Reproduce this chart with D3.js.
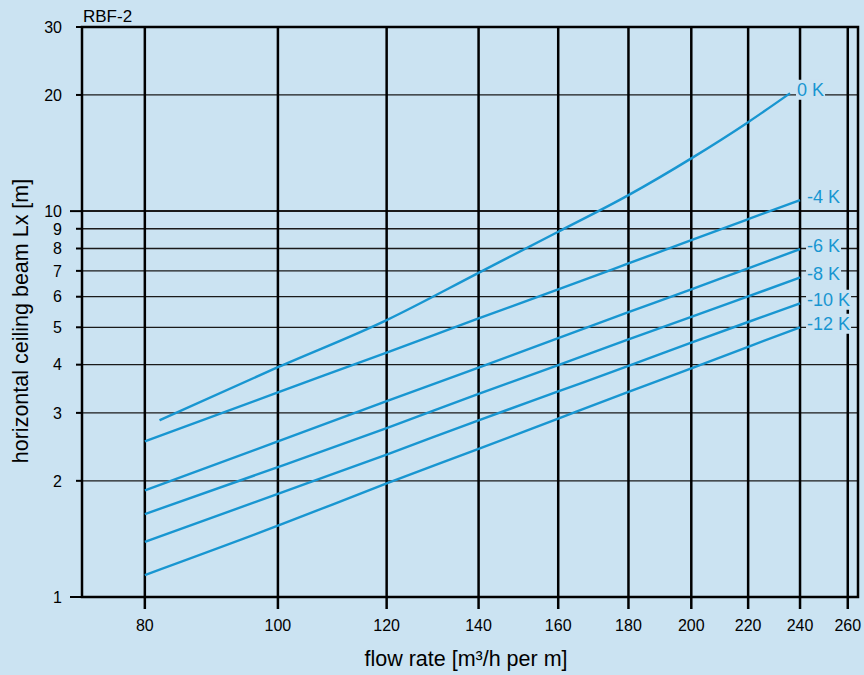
<!DOCTYPE html>
<head>
  <meta charset="utf-8">
  <script src="https://cdn.jsdelivr.net/npm/d3@7"></script>
  <style>
    body {
      margin: 0;
      background-color: #cbe3f2;
      font-family: Arial, "Liberation Sans", sans-serif;
    }
  </style>
</head>
<body>
  <div id="chart"></div>
  <script>
    // chart values
    var flow = [80, 100, 120, 140, 160, 180, 200, 220, 240];
    var flow_0K = [82, 100, 120, 140, 160, 180, 200, 220, 236];
    var lx_0K = [2.87, 3.94, 5.22, 6.92, 8.84, 11.0, 13.7, 17.0, 20.2];
    var lx_m4K = [2.53, 3.39, 4.30, 5.27, 6.27, 7.32, 8.41, 9.53, 10.68];
    var lx_m6K = [1.89, 2.53, 3.22, 3.93, 4.69, 5.47, 6.27, 7.11, 7.97];
    var lx_m8K = [1.64, 2.17, 2.74, 3.36, 3.99, 4.65, 5.32, 6.01, 6.73];
    var lx_m10K = [1.39, 1.85, 2.34, 2.87, 3.41, 3.97, 4.56, 5.16, 5.77];
    var lx_m12K = [1.14, 1.53, 1.97, 2.42, 2.90, 3.40, 3.91, 4.45, 5.00];
    var curve_labels = ['0 K', '-4 K', '-6 K', '-8 K', '-10 K', '-12 K'];
    var x_ticks = [80, 100, 120, 140, 160, 180, 200, 220, 240, 260];
    var y_ticks = [1, 2, 3, 4, 5, 6, 7, 8, 9, 10, 20, 30];
    var y_grid = [2, 3, 4, 5, 6, 7, 8, 9, 10, 20];

    var width = 864, height = 675;
    var line_color = '#1896d1';
    var bg_color = '#cbe3f2';

    var svg = d3.select('#chart').append('svg')
      .attr('width', width)
      .attr('height', height);

    var x = d3.scaleLog().domain([72, 264.5]).range([82, 858]);
    var y = d3.scaleLog().domain([1, 30]).range([597, 27]);

    var series = [
      { label: curve_labels[0], xs: flow_0K, ys: lx_0K },
      { label: curve_labels[1], xs: flow, ys: lx_m4K },
      { label: curve_labels[2], xs: flow, ys: lx_m6K },
      { label: curve_labels[3], xs: flow, ys: lx_m8K },
      { label: curve_labels[4], xs: flow, ys: lx_m10K },
      { label: curve_labels[5], xs: flow, ys: lx_m12K }
    ];

    // horizontal grid
    svg.append('g').selectAll('line')
      .data(y_grid).enter().append('line')
      .attr('x1', x.range()[0]).attr('x2', x.range()[1])
      .attr('y1', d => y(d)).attr('y2', d => y(d))
      .attr('stroke', '#1a1a1a')
      .attr('stroke-width', d => d == 10 ? 2 : 1.3);

    // vertical grid + x ticks
    svg.append('g').selectAll('line')
      .data(x_ticks).enter().append('line')
      .attr('x1', d => x(d)).attr('x2', d => x(d))
      .attr('y1', y.range()[1]).attr('y2', y.range()[0] + 12)
      .attr('stroke', '#000')
      .attr('stroke-width', 2.5);

    // frame
    svg.append('rect')
      .attr('x', x.range()[0]).attr('y', y.range()[1])
      .attr('width', x.range()[1] - x.range()[0])
      .attr('height', y.range()[0] - y.range()[1])
      .attr('fill', 'none')
      .attr('stroke', '#000')
      .attr('stroke-width', 2.5);

    // y ticks
    svg.append('g').selectAll('line')
      .data(y_ticks).enter().append('line')
      .attr('x1', d => (d == 1 || d == 10) ? x.range()[0] - 12 : x.range()[0] - 6)
      .attr('x2', x.range()[0])
      .attr('y1', d => y(d)).attr('y2', d => y(d))
      .attr('stroke', '#000')
      .attr('stroke-width', 2);

    svg.append('g').selectAll('text')
      .data(y_ticks).enter().append('text')
      .attr('x', 62)
      .attr('y', d => y(d))
      .attr('dy', '0.36em')
      .attr('text-anchor', 'end')
      .attr('font-size', '16px')
      .attr('fill', '#000')
      .text(d => d);

    svg.append('g').selectAll('text')
      .data(x_ticks).enter().append('text')
      .attr('x', d => x(d))
      .attr('y', 631)
      .attr('text-anchor', 'middle')
      .attr('font-size', '16px')
      .attr('fill', '#000')
      .text(d => d);

    // titles
    svg.append('text')
      .attr('x', 83).attr('y', 22)
      .attr('font-size', '17px')
      .text('RBF-2');

    svg.append('text')
      .attr('x', 466).attr('y', 666)
      .attr('text-anchor', 'middle')
      .attr('font-size', '21.5px')
      .text('flow rate [m³/h per m]');

    svg.append('text')
      .attr('transform', 'translate(28,321) rotate(-90)')
      .attr('text-anchor', 'middle')
      .attr('font-size', '21.5px')
      .text('horizontal ceiling beam Lx [m]');

    // curves
    var line = d3.line()
      .x(d => x(d[0]))
      .y(d => y(d[1]))
      .curve(d3.curveMonotoneX);

    svg.append('g').selectAll('path')
      .data(series).enter().append('path')
      .attr('d', s => line(s.xs.map((v, i) => [v, s.ys[i]])))
      .attr('fill', 'none')
      .attr('stroke', line_color)
      .attr('stroke-width', 2.4);

    // curve labels, with a background box that hides the grid
    var labels = svg.append('g').selectAll('g')
      .data(series).enter().append('g')
      .attr('transform', s => {
        var n = s.xs.length - 1;
        return 'translate(' + (x(s.xs[n]) + 7) + ',' + (y(s.ys[n]) - 4) + ')';
      });
    labels.append('text')
      .attr('dy', '0.36em')
      .attr('font-size', '18px')
      .attr('fill', line_color)
      .text(s => s.label);
    labels.each(function () {
      var b = d3.select(this).select('text').node().getBBox();
      d3.select(this).insert('rect', 'text')
        .attr('x', b.x - 1).attr('y', b.y)
        .attr('width', b.width + 2).attr('height', b.height)
        .attr('fill', bg_color);
    });
  </script>
</body>
